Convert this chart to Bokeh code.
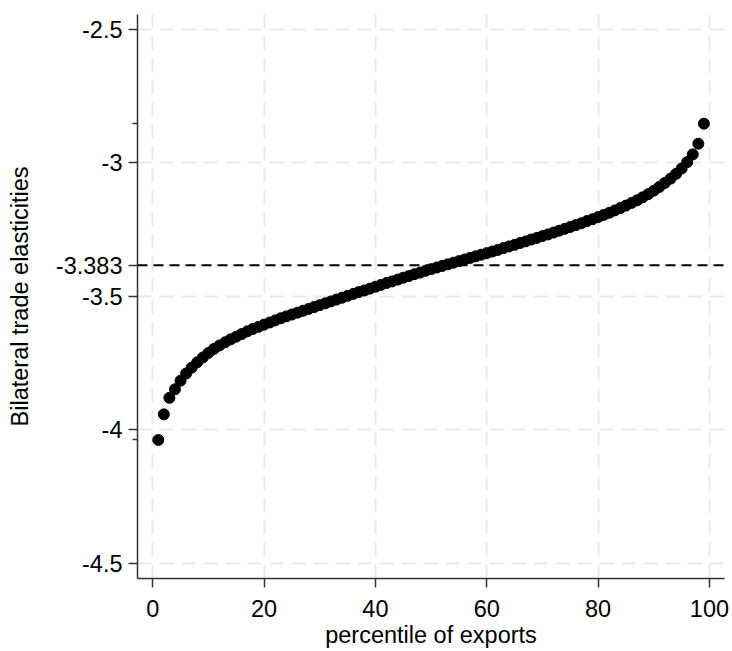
from bokeh.plotting import figure
from bokeh.models import FixedTicker, Span, Range1d, ColumnDataSource
from bokeh.embed import file_html
from bokeh.resources import INLINE

percentile = list(range(1, 100))
elasticity = [
    -4.038, -3.942, -3.880, -3.848, -3.816, -3.789, -3.767, -3.747, -3.729, -3.712,
    -3.697, -3.684, -3.672, -3.661, -3.651, -3.641, -3.631, -3.622, -3.614, -3.606,
    -3.598, -3.590, -3.582, -3.575, -3.568, -3.561, -3.554, -3.547, -3.540, -3.533,
    -3.526, -3.519, -3.512, -3.505, -3.498, -3.491, -3.484, -3.478, -3.471, -3.464,
    -3.457, -3.450, -3.444, -3.437, -3.430, -3.424, -3.417, -3.411, -3.404, -3.398,
    -3.392, -3.386, -3.380, -3.374, -3.368, -3.362, -3.356, -3.350, -3.344, -3.338,
    -3.332, -3.326, -3.319, -3.313, -3.307, -3.300, -3.294, -3.287, -3.281, -3.274,
    -3.268, -3.261, -3.254, -3.247, -3.240, -3.233, -3.226, -3.218, -3.211, -3.203,
    -3.195, -3.187, -3.178, -3.169, -3.160, -3.150, -3.140, -3.129, -3.117, -3.104,
    -3.090, -3.075, -3.059, -3.041, -3.021, -2.997, -2.968, -2.928, -2.853,
]
mean_value = -3.383
x_ticks = [0, 20, 40, 60, 80, 100]
y_grid_ticks = [-4.5, -4.0, -3.5, -3.0, -2.5]
y_tick_labels = {-4.5: "-4.5", -4.0: "-4", -3.5: "-3.5", -3.383: "-3.383", -3.0: "-3", -2.5: "-2.5"}
y_minor = [min(elasticity), max(elasticity)]

FONT = "Liberation Sans"

p = figure(width=732, height=651, output_backend="svg", toolbar_location=None,
           x_range=Range1d(-2.73, 102.7), y_range=Range1d(-4.557, -2.444),
           min_border_left=137, min_border_right=8, min_border_top=14, min_border_bottom=73)
p.outline_line_color = None
p.background_fill_color = "white"
p.border_fill_color = "white"

src = ColumnDataSource(dict(x=percentile, y=elasticity))
p.scatter("x", "y", source=src, size=11, color="black")

p.add_layout(Span(location=mean_value, dimension="width", line_color="black",
                  line_width=2, line_dash="10 6"))

# axes
p.xaxis.ticker = FixedTicker(ticks=x_ticks)
yt = sorted(y_tick_labels.keys())
p.yaxis.ticker = FixedTicker(ticks=yt, minor_ticks=y_minor)
p.yaxis.major_label_overrides = {k: v for k, v in y_tick_labels.items()}

for ax in (p.xaxis[0], p.yaxis[0]):
    ax.axis_line_color = "#333333"
    ax.axis_line_width = 1.5
    ax.major_tick_line_color = "#333333"
    ax.major_tick_line_width = 1.5
    ax.major_tick_out = 9
    ax.major_tick_in = 0
    ax.minor_tick_line_color = "#333333"
    ax.minor_tick_line_width = 1.5
    ax.minor_tick_out = 5
    ax.minor_tick_in = 0
    ax.major_label_text_font = FONT
    ax.major_label_text_font_size = "23.5px"
    ax.major_label_text_color = "black"
    ax.axis_label_text_font = FONT
    ax.axis_label_text_font_size = "23.5px"
    ax.axis_label_text_font_style = "normal"
    ax.axis_label_text_color = "black"

p.xaxis.minor_tick_line_color = None
p.xaxis.axis_label = "percentile of exports"
p.yaxis.axis_label = "Bilateral trade elasticities"
p.xaxis.major_label_standoff = 12
p.yaxis.major_label_standoff = 6
p.xaxis.axis_label_standoff = 2
p.yaxis.axis_label_standoff = 20

# grids
p.xgrid.ticker = FixedTicker(ticks=x_ticks)
p.ygrid.ticker = FixedTicker(ticks=y_grid_ticks)
for g in (p.xgrid[0], p.ygrid[0]):
    g.grid_line_color = "#e9e9e9"
    g.grid_line_width = 2
    g.grid_line_dash = "14 8"

open("out.html", "w").write(file_html(p, INLINE))
